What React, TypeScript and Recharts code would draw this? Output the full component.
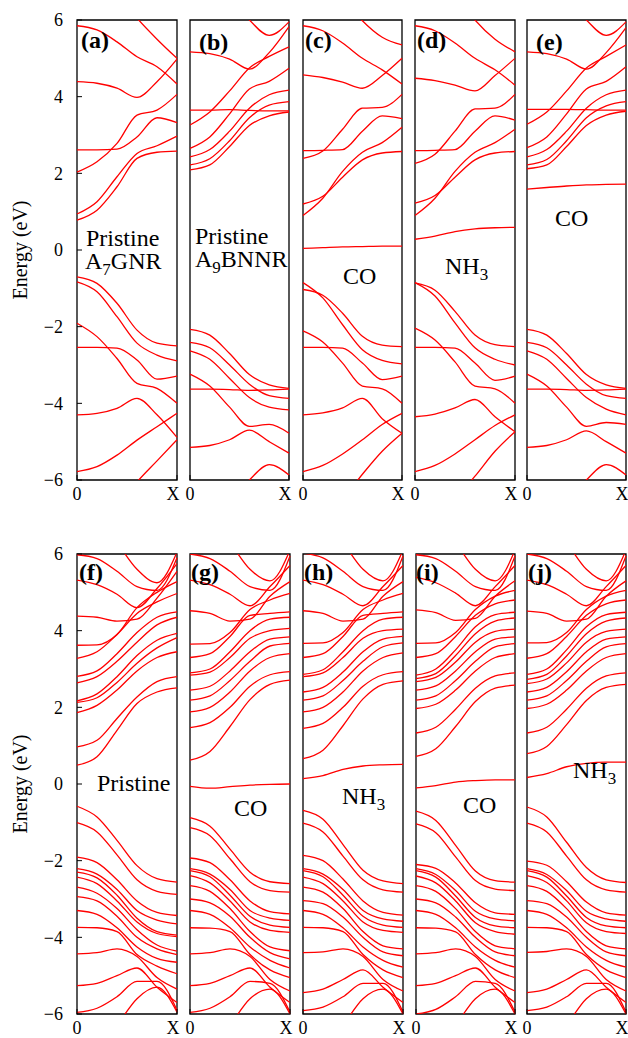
import React from "react";
import { LineChart, Line, XAxis, YAxis, ReferenceArea } from "recharts";

// k-path samples from Gamma (0) to X (1)
const kPoints = [0, 0.2, 0.4, 0.6, 0.8, 1];
const kLabels = ["0", "X"];
const energyTicks = [-6, -4, -2, 0, 2, 4, 6];

// (a) pristine A7GNR
const condA = [
  [0.78, 1.04, 1.65, 2.39, 2.55, 2.58],
  [0.94, 1.26, 1.91, 2.52, 2.72, 2.97],
  [2.61, 2.61, 2.63, 2.95, 3.45, 3.32],
  [2.03, 2.3, 2.78, 3.52, 3.65, 4.06],
  [4.39, 4.35, 4.22, 3.98, 4.39, 4.98],
  [5.85, 5.74, 5.43, 5.04, 4.78, 4.33],
  [7.5, 7.2, 6.7, 6.05, 5.5, 5.0],
];
const valA = [
  [-0.7, -0.87, -1.39, -2.09, -2.43, -2.5],
  [-0.83, -1.09, -1.74, -2.43, -2.74, -2.89],
  [-2.54, -2.54, -2.56, -2.87, -3.37, -3.29],
  [-1.91, -2.26, -2.83, -3.48, -3.61, -4.0],
  [-4.3, -4.26, -4.13, -3.87, -4.3, -4.89],
  [-5.78, -5.65, -5.35, -4.96, -4.61, -4.26],
  [-7.5, -7.2, -6.7, -6.05, -5.5, -4.95],
];

// (b) pristine A9BNNR
const condB = [
  [2.09, 2.22, 2.7, 3.25, 3.5, 3.6],
  [2.22, 2.38, 2.85, 3.45, 3.78, 3.87],
  [2.43, 2.62, 3.1, 3.7, 4.05, 4.17],
  [2.65, 2.95, 3.55, 4.2, 4.4, 4.74],
  [3.26, 3.6, 4.15, 4.75, 5.05, 5.3],
  [3.65, 3.65, 3.66, 3.64, 3.63, 3.63],
  [5.17, 5.12, 4.98, 4.72, 5.15, 5.83],
  [7.5, 7.2, 6.6, 6.0, 5.6, 5.95],
];
const valB = [
  [-2.07, -2.22, -2.7, -3.25, -3.52, -3.61],
  [-2.41, -2.55, -3.0, -3.5, -3.8, -3.87],
  [-2.63, -2.85, -3.35, -3.85, -4.1, -4.17],
  [-3.24, -3.55, -4.1, -4.6, -4.55, -4.78],
  [-3.63, -3.63, -3.64, -3.66, -3.65, -3.63],
  [-5.15, -5.1, -4.95, -4.7, -5.0, -5.3],
  [-7.5, -7.2, -6.6, -6.0, -5.6, -5.87],
];

// (c) CO on A7GNR
const condC = [
  [0.9, 1.35, 2.05, 2.55, 2.8, 3.2],
  [1.2, 1.4, 1.9, 2.35, 2.53, 2.57],
  [2.39, 2.58, 3.15, 3.7, 3.72, 4.06],
  [2.59, 2.6, 2.62, 3.1, 3.5, 3.43],
  [4.57, 4.5, 4.38, 4.22, 4.55, 5.0],
  [5.85, 5.72, 5.4, 5.0, 4.7, 4.33],
  [7.2, 7.0, 6.6, 5.98, 5.55, 5.35],
];
const valC = [
  [-0.85, -1.25, -1.95, -2.6, -2.88, -2.97],
  [-1.03, -1.18, -1.65, -2.25, -2.48, -2.52],
  [-2.54, -2.54, -2.56, -2.95, -3.38, -3.29],
  [-2.11, -2.4, -2.95, -3.55, -3.62, -4.0],
  [-4.3, -4.25, -4.12, -3.87, -4.4, -4.78],
  [-5.78, -5.62, -5.32, -4.95, -4.55, -4.26],
  [-7.3, -7.0, -6.5, -5.85, -5.25, -4.78],
];
const defC = [0.04, 0.06, 0.08, 0.09, 0.1, 0.1];

// (d) NH3 on A7GNR
const condD = [
  [0.9, 1.35, 2.05, 2.55, 2.8, 3.15],
  [1.22, 1.42, 1.9, 2.35, 2.53, 2.57],
  [2.26, 2.5, 3.1, 3.68, 3.7, 4.06],
  [2.59, 2.6, 2.62, 3.1, 3.5, 3.39],
  [4.48, 4.42, 4.3, 4.15, 4.55, 5.0],
  [5.85, 5.72, 5.4, 5.0, 4.7, 4.3],
  [7.3, 7.1, 6.7, 6.0, 5.5, 5.17],
];
const valD = [
  [-0.85, -1.2, -1.9, -2.55, -2.85, -3.0],
  [-0.86, -1.05, -1.6, -2.22, -2.47, -2.52],
  [-2.54, -2.54, -2.56, -2.95, -3.4, -3.29],
  [-2.04, -2.35, -2.92, -3.55, -3.62, -4.0],
  [-4.35, -4.28, -4.12, -3.9, -4.35, -4.74],
  [-5.78, -5.62, -5.32, -4.95, -4.58, -4.3],
  [-7.3, -7.0, -6.5, -5.9, -5.25, -4.74],
];
const defD = [0.28, 0.36, 0.48, 0.55, 0.58, 0.59];

// (e) CO on A9BNNR
const condE = [
  [2.12, 2.22, 2.7, 3.25, 3.52, 3.62],
  [2.22, 2.36, 2.85, 3.45, 3.76, 3.87],
  [2.43, 2.62, 3.1, 3.7, 4.05, 4.17],
  [2.67, 2.95, 3.55, 4.2, 4.4, 4.78],
  [3.28, 3.6, 4.15, 4.75, 5.05, 5.35],
  [3.67, 3.67, 3.67, 3.66, 3.65, 3.65],
  [5.17, 5.12, 4.98, 4.72, 5.15, 5.8],
  [7.5, 7.2, 6.6, 6.0, 5.6, 5.95],
];
const valE = [
  [-2.07, -2.22, -2.7, -3.25, -3.52, -3.61],
  [-2.41, -2.55, -3.0, -3.5, -3.8, -3.87],
  [-2.63, -2.85, -3.35, -3.85, -4.15, -4.3],
  [-3.24, -3.55, -4.1, -4.6, -4.5, -4.55],
  [-3.63, -3.63, -3.64, -3.66, -3.65, -3.63],
  [-5.15, -5.1, -4.95, -4.72, -5.0, -5.3],
  [-7.5, -7.2, -6.6, -6.0, -5.6, -5.87],
];
const defE = [1.59, 1.63, 1.67, 1.7, 1.71, 1.72];

// (f) pristine wide ribbon
const condF = [
  [0.49, 0.71, 1.4, 2.1, 2.4, 2.51],
  [0.97, 1.14, 1.71, 2.27, 2.67, 2.8],
  [1.86, 2.05, 2.45, 2.95, 3.3, 3.45],
  [2.13, 2.25, 2.65, 3.15, 3.55, 3.82],
  [2.17, 2.35, 2.8, 3.35, 3.75, 3.93],
  [2.64, 2.8, 3.2, 3.7, 4.15, 4.35],
  [2.81, 2.95, 3.4, 3.95, 4.35, 4.49],
  [3.28, 3.45, 3.9, 4.45, 4.75, 4.97],
  [3.62, 3.63, 3.9, 4.6, 5.0, 5.28],
  [4.38, 4.35, 4.25, 4.3, 4.85, 5.55],
  [5.32, 5.2, 4.95, 4.6, 5.1, 5.75],
  [5.98, 5.88, 5.55, 5.15, 5.05, 5.9],
  [7.5, 7.0, 6.3, 5.6, 5.25, 6.05],
];
const valF = [
  [-0.58, -0.86, -1.47, -2.13, -2.47, -2.56],
  [-1.01, -1.25, -1.85, -2.5, -2.8, -2.88],
  [-1.91, -2.05, -2.5, -3.05, -3.35, -3.43],
  [-2.21, -2.35, -2.75, -3.3, -3.55, -3.65],
  [-2.3, -2.45, -2.9, -3.5, -3.85, -3.94],
  [-2.43, -2.6, -3.05, -3.6, -3.9, -3.98],
  [-2.69, -2.85, -3.25, -3.8, -4.2, -4.36],
  [-2.94, -3.05, -3.45, -4.0, -4.3, -4.45],
  [-3.3, -3.4, -3.75, -4.25, -4.55, -4.65],
  [-3.74, -3.75, -3.85, -4.45, -4.75, -4.95],
  [-4.43, -4.4, -4.3, -4.5, -5.05, -5.35],
  [-5.26, -5.2, -5.0, -4.8, -5.3, -5.7],
  [-5.96, -5.85, -5.55, -5.15, -5.15, -5.9],
  [-7.5, -7.0, -6.3, -5.6, -5.3, -5.95],
];

// (g) CO on wide ribbon
const condG = [
  [0.62, 0.85, 1.5, 2.2, 2.6, 2.71],
  [1.47, 1.6, 2.0, 2.55, 2.85, 2.93],
  [1.88, 2.0, 2.4, 2.95, 3.3, 3.4],
  [2.19, 2.3, 2.7, 3.2, 3.6, 3.67],
  [2.45, 2.55, 2.95, 3.45, 3.78, 3.84],
  [2.84, 2.92, 3.3, 3.8, 4.0, 4.06],
  [2.9, 3.0, 3.45, 4.0, 4.3, 4.35],
  [3.3, 3.4, 3.85, 4.4, 4.45, 4.49],
  [3.65, 3.66, 3.95, 4.55, 4.8, 4.97],
  [4.52, 4.45, 4.25, 4.3, 4.9, 5.28],
  [5.32, 5.2, 4.95, 4.65, 5.15, 5.7],
  [6.0, 5.88, 5.55, 5.15, 5.05, 5.95],
  [7.5, 7.0, 6.3, 5.6, 5.3, 6.1],
];
const valG = [
  [-0.88, -1.1, -1.7, -2.3, -2.55, -2.6],
  [-1.14, -1.35, -1.95, -2.55, -2.78, -2.82],
  [-1.93, -2.05, -2.5, -3.05, -3.33, -3.39],
  [-2.21, -2.35, -2.75, -3.3, -3.5, -3.56],
  [-2.26, -2.42, -2.9, -3.45, -3.68, -3.74],
  [-2.39, -2.58, -3.05, -3.6, -3.82, -3.87],
  [-2.65, -2.8, -3.25, -3.85, -4.25, -4.35],
  [-3.0, -3.1, -3.45, -4.0, -4.4, -4.56],
  [-3.3, -3.4, -3.75, -4.25, -4.6, -4.8],
  [-3.75, -3.76, -3.85, -4.45, -4.85, -5.05],
  [-4.43, -4.4, -4.3, -4.5, -5.1, -5.4],
  [-5.26, -5.2, -5.0, -4.8, -5.3, -5.7],
  [-5.96, -5.85, -5.55, -5.15, -5.2, -5.95],
  [-7.5, -7.0, -6.3, -5.6, -5.35, -6.0],
];
const defG = [-0.06, -0.11, -0.07, -0.03, -0.01, 0.0];

// (h) NH3 on wide ribbon
const condH = [
  [0.66, 0.88, 1.52, 2.22, 2.6, 2.69],
  [1.45, 1.58, 2.0, 2.55, 2.85, 2.93],
  [1.88, 2.0, 2.4, 2.95, 3.3, 3.42],
  [2.19, 2.3, 2.7, 3.2, 3.58, 3.68],
  [2.4, 2.52, 2.92, 3.45, 3.78, 3.85],
  [2.8, 2.9, 3.3, 3.8, 4.0, 4.04],
  [2.86, 2.98, 3.45, 4.0, 4.3, 4.35],
  [3.3, 3.4, 3.85, 4.4, 4.45, 4.49],
  [3.67, 3.68, 3.95, 4.55, 4.8, 4.97],
  [4.52, 4.45, 4.25, 4.3, 4.9, 5.28],
  [5.32, 5.2, 4.95, 4.65, 5.15, 5.7],
  [6.02, 5.9, 5.55, 5.15, 5.05, 5.95],
  [7.5, 7.0, 6.3, 5.6, 5.3, 6.1],
];
const valH = [
  [-0.69, -0.92, -1.58, -2.25, -2.53, -2.6],
  [-1.02, -1.25, -1.88, -2.5, -2.76, -2.82],
  [-1.86, -2.0, -2.48, -3.05, -3.35, -3.42],
  [-2.21, -2.35, -2.75, -3.3, -3.52, -3.58],
  [-2.26, -2.42, -2.9, -3.45, -3.68, -3.74],
  [-2.43, -2.6, -3.05, -3.6, -3.82, -3.87],
  [-2.69, -2.82, -3.25, -3.85, -4.22, -4.3],
  [-3.04, -3.12, -3.47, -4.0, -4.38, -4.48],
  [-3.3, -3.4, -3.75, -4.25, -4.6, -4.78],
  [-3.74, -3.75, -3.85, -4.45, -4.85, -5.05],
  [-4.4, -4.38, -4.3, -4.5, -5.1, -5.4],
  [-5.44, -5.35, -5.1, -4.85, -5.3, -5.7],
  [-5.91, -5.82, -5.55, -5.2, -5.2, -5.95],
  [-7.5, -7.0, -6.3, -5.6, -5.35, -6.0],
];
const defH = [0.14, 0.22, 0.38, 0.47, 0.5, 0.51];

// (i) CO on wide ribbon, second site
const condI = [
  [0.72, 0.92, 1.5, 2.15, 2.5, 2.58],
  [1.33, 1.48, 1.95, 2.5, 2.82, 2.9],
  [1.97, 2.08, 2.45, 2.95, 3.3, 3.4],
  [2.19, 2.3, 2.7, 3.2, 3.58, 3.66],
  [2.45, 2.56, 2.95, 3.45, 3.78, 3.84],
  [2.67, 2.78, 3.18, 3.7, 3.98, 4.04],
  [2.75, 2.88, 3.35, 3.92, 4.25, 4.33],
  [2.84, 3.0, 3.5, 4.1, 4.42, 4.48],
  [3.3, 3.4, 3.85, 4.4, 4.7, 4.8],
  [3.67, 3.68, 3.95, 4.55, 4.9, 5.05],
  [4.54, 4.47, 4.27, 4.32, 4.9, 5.3],
  [5.39, 5.25, 4.98, 4.65, 5.15, 5.7],
  [5.98, 5.88, 5.55, 5.15, 5.05, 5.95],
  [7.5, 7.0, 6.3, 5.6, 5.3, 6.1],
];
const valI = [
  [-0.71, -0.95, -1.6, -2.27, -2.52, -2.56],
  [-1.04, -1.27, -1.9, -2.52, -2.74, -2.78],
  [-2.1, -2.2, -2.58, -3.1, -3.36, -3.4],
  [-2.21, -2.36, -2.78, -3.32, -3.52, -3.57],
  [-2.26, -2.43, -2.92, -3.48, -3.7, -3.75],
  [-2.4, -2.58, -3.05, -3.62, -3.85, -3.92],
  [-2.65, -2.8, -3.25, -3.85, -4.22, -4.3],
  [-3.0, -3.1, -3.47, -4.0, -4.38, -4.48],
  [-3.3, -3.4, -3.75, -4.25, -4.6, -4.78],
  [-3.75, -3.76, -3.86, -4.45, -4.85, -5.05],
  [-4.43, -4.4, -4.3, -4.5, -5.1, -5.4],
  [-5.26, -5.2, -5.0, -4.8, -5.3, -5.7],
  [-6.0, -5.88, -5.55, -5.15, -5.2, -5.95],
  [-7.5, -7.0, -6.3, -5.6, -5.35, -6.0],
];
const defI = [-0.1, -0.04, 0.05, 0.09, 0.11, 0.11];

// (j) NH3 on wide ribbon, second site
const condJ = [
  [0.79, 0.98, 1.55, 2.18, 2.52, 2.6],
  [1.33, 1.48, 1.95, 2.5, 2.82, 2.9],
  [1.97, 2.08, 2.45, 2.95, 3.3, 3.4],
  [2.19, 2.3, 2.7, 3.2, 3.58, 3.66],
  [2.4, 2.52, 2.93, 3.45, 3.78, 3.84],
  [2.62, 2.74, 3.16, 3.7, 3.98, 4.04],
  [2.73, 2.86, 3.34, 3.92, 4.25, 4.33],
  [2.86, 3.0, 3.5, 4.1, 4.42, 4.48],
  [3.28, 3.4, 3.85, 4.4, 4.7, 4.8],
  [3.68, 3.69, 3.95, 4.55, 4.9, 5.05],
  [4.51, 4.45, 4.25, 4.3, 4.9, 5.3],
  [5.32, 5.2, 4.95, 4.65, 5.15, 5.7],
  [6.0, 5.88, 5.55, 5.15, 5.05, 5.95],
  [7.5, 7.0, 6.3, 5.6, 5.3, 6.1],
];
const valJ = [
  [-0.6, -0.86, -1.52, -2.18, -2.5, -2.57],
  [-1.02, -1.25, -1.88, -2.5, -2.76, -2.82],
  [-2.01, -2.12, -2.55, -3.08, -3.36, -3.42],
  [-2.21, -2.36, -2.78, -3.32, -3.52, -3.58],
  [-2.26, -2.43, -2.92, -3.48, -3.7, -3.75],
  [-2.39, -2.57, -3.05, -3.62, -3.85, -3.9],
  [-2.65, -2.8, -3.25, -3.85, -4.22, -4.3],
  [-3.04, -3.12, -3.47, -4.0, -4.38, -4.48],
  [-3.3, -3.4, -3.75, -4.25, -4.6, -4.78],
  [-3.74, -3.75, -3.85, -4.45, -4.85, -5.05],
  [-4.39, -4.37, -4.3, -4.5, -5.1, -5.4],
  [-5.44, -5.35, -5.1, -4.85, -5.3, -5.7],
  [-5.91, -5.82, -5.55, -5.2, -5.2, -5.95],
  [-7.5, -7.0, -6.3, -5.6, -5.35, -6.0],
];
const defJ = [0.17, 0.27, 0.45, 0.54, 0.57, 0.57];

const serif = "'Liberation Serif', 'Times New Roman', Times, serif";
const RED = "#ff0000";

// plot-area placement of each panel
const panels = [
  { id: "a", x: 77, y: 20, w: 100, bands: [...condA, ...valA], first: true, lx: 81, ly: 29 },
  { id: "b", x: 190, y: 20, w: 99, bands: [...condB, ...valB], first: false, lx: 199, ly: 31 },
  { id: "c", x: 303, y: 20, w: 99, bands: [...condC, ...valC, defC], first: false, lx: 305, ly: 29 },
  { id: "d", x: 415, y: 20, w: 100, bands: [...condD, ...valD, defD], first: false, lx: 417, ly: 29 },
  { id: "e", x: 527, y: 20, w: 99, bands: [...condE, ...valE, defE], first: false, lx: 536, ly: 31 },
  { id: "f", x: 77, y: 554, w: 100, bands: [...condF, ...valF], first: true, lx: 79, ly: 561 },
  { id: "g", x: 190, y: 554, w: 100, bands: [...condG, ...valG, defG], first: false, lx: 191, ly: 561 },
  { id: "h", x: 303, y: 554, w: 100, bands: [...condH, ...valH, defH], first: false, lx: 304, ly: 561 },
  { id: "i", x: 416, y: 554, w: 99, bands: [...condI, ...valI, defI], first: false, lx: 416, ly: 561 },
  { id: "j", x: 527, y: 554, w: 99, bands: [...condJ, ...valJ, defJ], first: false, lx: 528, ly: 561 },
];

const L = 77; // left axis width
const R = 4; // right axis width
const M = 8; // extra right margin for the X label
const T = 14;
const B = 30;
const H = 460;

const fmtE = (v: number) => (v < 0 ? "\u2212" + Math.abs(v) : String(v));

// "0" sits on the left edge, "X" a little inside the right edge
function KTick(props: any) {
  const { x, y, payload } = props;
  const atX = payload.value === 1;
  return (
    <text x={atX ? x - 4 : x} y={y} dy="0.71em" textAnchor="middle" fontFamily={serif} fontSize={18} fill="#000">
      {atX ? kLabels[1] : kLabels[0]}
    </text>
  );
}

function Panel({ p }: { p: any }) {
  const rows = kPoints.map((k, i) => {
    const r: any = { k };
    p.bands.forEach((b: number[], j: number) => (r["b" + j] = b[i]));
    return r;
  });
  const tickStyle = { fontFamily: serif, fontSize: 18, fill: "#000" };
  return (
    <div style={{ position: "absolute", left: p.x - L, top: p.y - T }}>
      <LineChart width={L + p.w + R + M} height={T + H + B} data={rows} margin={{ top: T, right: M, bottom: 0, left: 0 }}>
        <XAxis
          dataKey="k"
          type="number"
          domain={[0, 1]}
          ticks={[0, 1]}
          interval={0}
          height={B}
          tickSize={-5}
          tickMargin={12}
          axisLine={false}
          tickLine={{ stroke: "#000" }}
          tick={<KTick />}
        />
        <YAxis
          type="number"
          domain={[-6, 6]}
          allowDataOverflow
          ticks={energyTicks}
          interval={0}
          width={L}
          tickSize={-5}
          tickMargin={19}
          axisLine={false}
          tickLine={{ stroke: "#000" }}
          tick={p.first ? tickStyle : false}
          tickFormatter={fmtE}
          label={
            p.first
              ? {
                  value: "Energy (eV)",
                  angle: -90,
                  position: "insideLeft",
                  offset: 20,
                  style: { textAnchor: "middle", fontFamily: serif, fontSize: 20, fill: "#000" },
                }
              : undefined
          }
        />
        <YAxis
          yAxisId="r"
          orientation="right"
          type="number"
          domain={[-6, 6]}
          allowDataOverflow
          ticks={energyTicks}
          interval={0}
          width={R}
          tickSize={-5}
          axisLine={false}
          tickLine={{ stroke: "#000" }}
          tick={false}
        />
        {p.bands.map((_: number[], j: number) => (
          <Line
            key={j}
            dataKey={"b" + j}
            type="monotone"
            stroke={RED}
            strokeWidth={1.3}
            dot={false}
            activeDot={false}
            isAnimationActive={false}
          />
        ))}
        <ReferenceArea x1={0} x2={1} y1={-6} y2={6} fill="none" fillOpacity={0} stroke="#000" strokeWidth={1.3} ifOverflow="visible" />
      </LineChart>
    </div>
  );
}

const note: React.CSSProperties = { position: "absolute", fontFamily: serif, fontSize: 24, lineHeight: "23px", color: "#000", whiteSpace: "nowrap" };
const sub: React.CSSProperties = { fontSize: 17, position: "relative", top: 6, lineHeight: "10px" };

export default function App() {
  return (
    <div style={{ position: "absolute", left: 0, top: 0, width: 628, height: 1038, background: "#fff", overflow: "hidden" }}>
      {panels.map((p) => (
        <Panel key={p.id} p={p} />
      ))}
      {panels.map((p) => (
        <div key={"l" + p.id} style={{ ...note, left: p.lx, top: p.ly, fontWeight: "bold" }}>
          ({p.id})
        </div>
      ))}
      <div style={{ ...note, left: 86, top: 227 }}>
        Pristine
        <br />
        <span style={{ marginLeft: -1 }}>
          A<span style={sub}>7</span>GNR
        </span>
      </div>
      <div style={{ ...note, left: 195, top: 225 }}>
        Pristine
        <br />
        A<span style={sub}>9</span>BNNR
      </div>
      <div style={{ ...note, left: 343, top: 265 }}>CO</div>
      <div style={{ ...note, left: 445, top: 255 }}>
        NH<span style={sub}>3</span>
      </div>
      <div style={{ ...note, left: 555, top: 207 }}>CO</div>
      <div style={{ ...note, left: 97, top: 772 }}>Pristine</div>
      <div style={{ ...note, left: 234, top: 797 }}>CO</div>
      <div style={{ ...note, left: 342, top: 785 }}>
        NH<span style={sub}>3</span>
      </div>
      <div style={{ ...note, left: 463, top: 794 }}>CO</div>
      <div style={{ ...note, left: 573, top: 759 }}>
        NH<span style={sub}>3</span>
      </div>
    </div>
  );
}
